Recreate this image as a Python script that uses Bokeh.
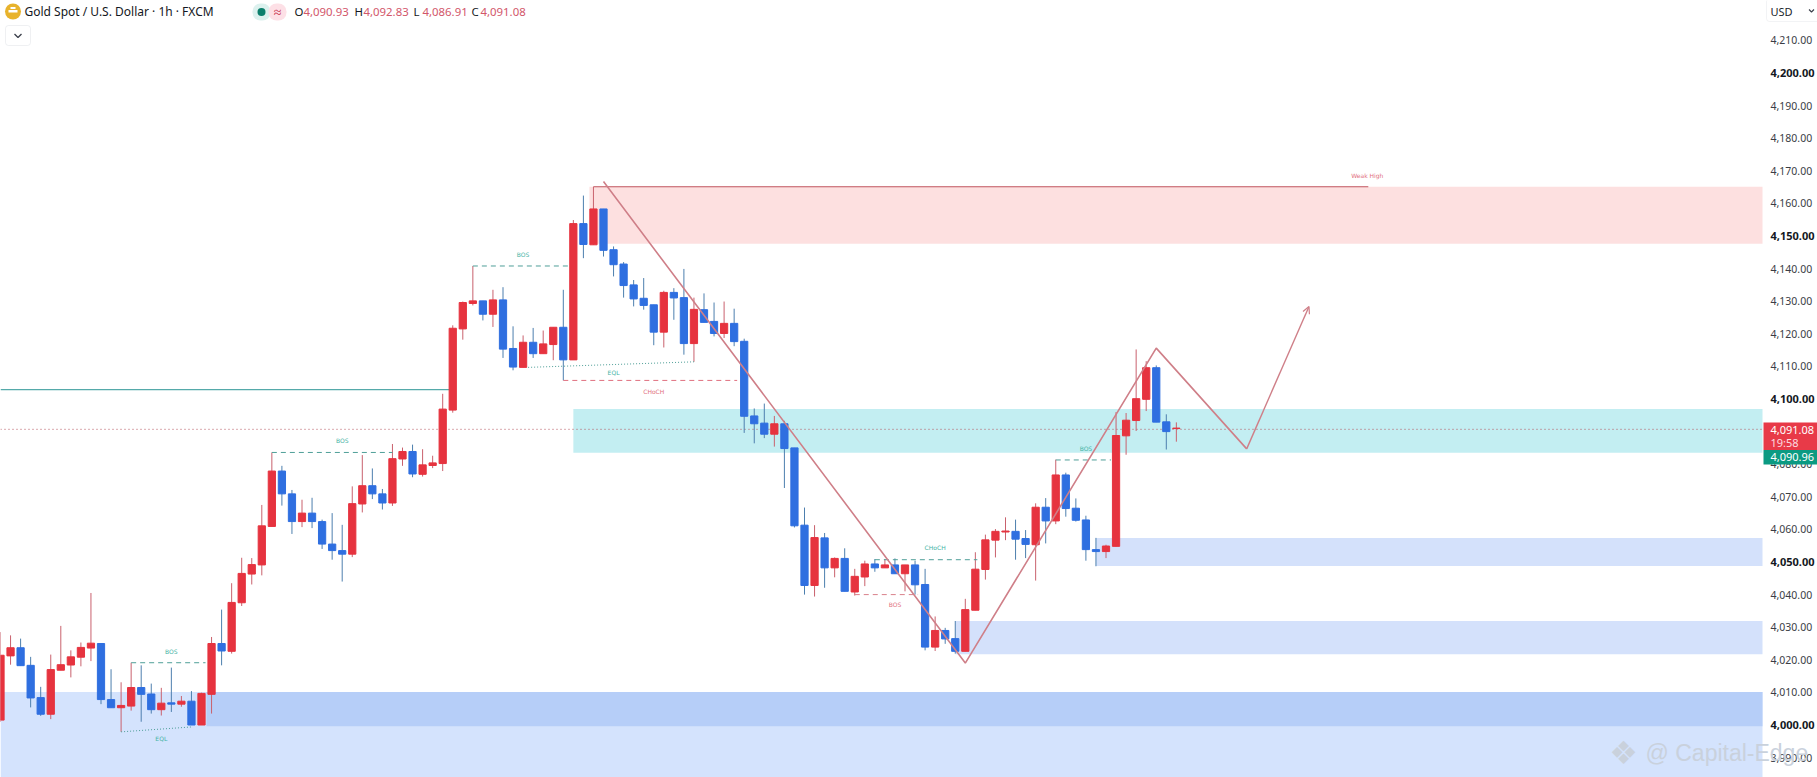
from bokeh.plotting import figure
from bokeh.embed import file_html
from bokeh.resources import INLINE
from bokeh.models import Range1d, FixedTicker, NumeralTickFormatter, Label, BoxAnnotation, Arrow, OpenHead, ColumnDataSource

# ---- data: high, body top, body bottom, low ; colour (r = up, b = down)
highs = [4028.5,4027.5,4026.5,4020.9,4011.7,4021.6,4030.4,4022.9,4025.3,4040.5,4025.0,4017.1,4013.1,4019.1,4018.3,4012.7,4011.4,4017.6,4008.9,4010.4,
         4009.9,4027.0,4035.4,4043.5,4051.3,4051.2,4067.5,4083.6,4079.5,4072.1,4069.1,4069.7,4063.0,4065.0,4061.4,4073.2,4082.8,4078.7,4072.4,4086.2,
         4085.1,4086.0,4084.6,4082.6,4101.6,4122.6,4129.9,4140.8,4130.1,4133.5,4134.3,4122.3,4119.5,4121.8,4121.0,4122.0,4133.5,4154.9,4162.4,4165.1,
         4158.3,4146.8,4142.0,4136.5,4137.1,4128.9,4133.2,4134.0,4139.9,4131.1,4132.4,4129.6,4129.9,4127.7,4118.5,4097.1,4098.6,4094.8,4093.3,4085.0,
         4066.7,4061.3,4058.9,4051.4,4054.2,4047.9,4050.4,4050.9,4050.9,4051.1,4049.1,4050.4,4047.9,4033.3,4029.8,4031.9,4038.7,4053.0,4058.4,4060.1,
         4063.7,4063.0,4059.8,4068.0,4069.6,4081.4,4077.4,4069.5,4064.2,4057.4,4055.3,4096.0,4095.7,4115.2,4111.6,4110.3,4095.3,4092.83]
tops  = [4021.4,4023.7,4023.7,4018.3,4008.4,4017.0,4018.5,4020.9,4023.8,4025.1,4025.0,4007.8,4006.0,4011.5,4011.5,4009.5,4006.7,4006.8,4007.3,4007.3,
         4009.7,4025.0,4025.0,4037.6,4046.5,4049.2,4061.1,4077.9,4077.9,4070.9,4065.0,4065.0,4062.4,4055.5,4053.5,4067.9,4073.4,4073.4,4070.9,4081.7,
         4083.9,4083.9,4079.8,4080.4,4096.9,4121.7,4129.6,4130.1,4130.1,4130.4,4130.4,4115.5,4117.4,4117.4,4116.9,4122.0,4122.0,4153.8,4153.8,4158.3,
         4158.3,4145.8,4141.4,4135.0,4130.9,4128.9,4132.7,4132.7,4131.1,4127.5,4127.4,4123.8,4123.2,4123.2,4117.7,4094.8,4092.6,4092.4,4092.4,4085.0,
         4061.3,4057.5,4057.4,4051.1,4051.1,4045.6,4049.4,4049.4,4049.1,4049.1,4049.1,4049.1,4043.1,4029.0,4029.0,4026.5,4035.4,4047.8,4056.8,4059.4,
         4059.5,4059.4,4057.2,4066.8,4066.8,4076.7,4076.7,4066.5,4062.9,4053.8,4054.9,4088.8,4093.5,4100.1,4109.6,4109.6,4093.0,4091.08]
bots  = [4001.5,4021.2,4018.2,4008.3,4003.3,4003.3,4016.8,4018.4,4020.8,4023.6,4007.8,4005.3,4005.3,4005.8,4009.4,4004.7,4004.7,4006.4,4006.4,4000.0,
         4000.0,4009.4,4022.7,4022.6,4037.5,4046.3,4049.1,4060.9,4070.9,4062.4,4062.4,4062.4,4055.5,4053.5,4052.4,4052.4,4067.8,4070.9,4068.1,4068.1,
         4081.6,4077.0,4076.9,4079.6,4080.2,4096.6,4121.5,4129.3,4126.0,4126.0,4115.3,4109.8,4109.7,4113.9,4113.9,4116.7,4112.0,4112.0,4147.4,4147.3,
         4145.6,4141.2,4134.8,4130.7,4128.7,4120.5,4120.5,4131.0,4117.0,4117.0,4123.5,4120.1,4120.1,4117.6,4094.7,4092.4,4089.2,4089.2,4084.8,4061.1,
         4042.8,4042.8,4048.2,4048.2,4041.0,4040.8,4045.4,4048.2,4048.2,4046.4,4046.4,4043.0,4023.9,4023.9,4026.4,4022.6,4022.6,4035.2,4047.7,4056.7,
         4059.2,4057.0,4055.4,4055.3,4062.6,4062.6,4066.4,4062.8,4053.8,4053.2,4053.2,4054.8,4088.7,4093.4,4099.9,4092.9,4090.0,4090.93]
lows  = [4001.0,4018.5,4018.2,4005.4,4002.8,4001.8,4016.8,4014.6,4018.0,4019.6,4006.4,4005.3,3997.9,4004.4,4001.0,4003.5,4002.9,4004.0,4005.6,4000.0,
         4000.0,4003.5,4018.3,4021.9,4036.5,4043.1,4045.9,4060.9,4067.3,4058.6,4060.7,4060.4,4054.0,4050.7,4044.0,4051.5,4065.2,4069.3,4066.1,4067.2,
         4079.5,4076.0,4076.2,4078.8,4077.9,4095.8,4118.2,4128.7,4124.1,4122.1,4112.6,4108.8,4109.7,4112.6,4113.9,4111.9,4105.7,4112.0,4143.2,4147.3,
         4143.7,4137.6,4131.1,4128.4,4127.4,4116.5,4115.8,4124.3,4113.6,4111.4,4123.5,4119.2,4118.7,4116.2,4089.6,4086.4,4088.0,4085.4,4072.7,4060.6,
         4040.0,4039.4,4042.1,4045.3,4041.0,4039.7,4042.6,4047.0,4048.2,4046.4,4041.0,4040.0,4022.9,4022.7,4024.9,4021.9,4022.6,4035.2,4044.6,4051.4,
         4056.7,4050.7,4051.2,4044.3,4055.7,4061.6,4063.9,4062.4,4050.4,4048.7,4051.2,4054.8,4082.9,4090.2,4096.3,4092.9,4084.5,4086.91]
kinds = "rrbbbrrrrrbbrrbbrbrb" \
        "rrbrrrrrbbrbbbbrrbbr" \
        "rbrrrrrrbrbbrbrrbrbr" \
        "bbbbbbrbbrbbrbbbbrbb" \
        "brbrbrrbrbrbbrbbrrrr" \
        "rbbrbrbbbbrrrrrbbr"
price_ticks = list(range(3990, 4220, 10))
strong_ticks = [4000, 4050, 4100, 4150, 4200]
header_title = "Gold Spot / U.S. Dollar · 1h · FXCM"
ohlc = [("O", "4,090.93"), ("H", "4,092.83"), ("L", "4,086.91"), ("C", "4,091.08")]
last_price_line = 4090.7

RED, BLUE = "#e6333f", "#2f6fe0"
RED_W, BLUE_W = "#c9616d", "#4d7fae"
TEAL, PINK = "#45b3a5", "#e2707e"
TREND = "#cf7f88"

PX, PY = 10.05, 3.26
def X(px): return px / PX
def Y(py): return 4100 - (py - 398.5) / PY

FRAME_R = 1762
p = figure(width=1817, height=777, frame_width=1817, frame_height=777,
           x_range=Range1d(0, X(1817)), y_range=Range1d(Y(777), Y(0)),
           y_axis_location="right", x_axis_location=None,
           toolbar_location=None, output_backend="svg",
           min_border_left=0, min_border_top=0, min_border_bottom=0, min_border_right=0)
p.grid.visible = False
p.outline_line_color = None
p.background_fill_color = "white"
p.border_fill_color = "white"
ax = p.yaxis[0]
ax.fixed_location = X(FRAME_R)
ax.ticker = FixedTicker(ticks=price_ticks)
ax.formatter = NumeralTickFormatter(format="0,0.00")
ax.axis_line_color = None
ax.major_tick_line_color = None
ax.minor_tick_line_color = None
ax.major_tick_out = 0
ax.major_tick_in = 0
ax.major_label_standoff = 8
ax.major_label_text_font = "Noto Sans"
ax.major_label_text_font_size = "10.5px"
ax.major_label_text_color = "#3a3d45"
ax.major_label_overrides = {t: "" for t in strong_ticks}

# ---- zones
END = X(FRAME_R)
LIGHT, DARK = "#d4e3fd", "#b6cef8"
p.quad(left=0, right=END, bottom=Y(777), top=4010.1, color=LIGHT, line_color=None)
p.quad(left=20.5, right=END, bottom=3999.6, top=4010.1, color=DARK, line_color=None)
p.quad(left=58.6, right=END, bottom=4147.6, top=4165.1, color="#fde0e0", line_color=None)
p.quad(left=57, right=END, bottom=4083.5, top=4096.9, color="#c3eef2", line_color=None)
p.quad(left=109, right=END, bottom=4048.8, top=4057.4, color="#d4e1fb", line_color=None)
p.quad(left=95, right=END, bottom=4021.7, top=4031.9, color="#d4e1fb", line_color=None)

# ---- reference lines
p.line([0, END], [last_price_line] * 2, line_color="#b5555f", line_width=1, line_dash="1 3")
p.line([0, 44.8], [4102.9] * 2, line_color="#55aaaa", line_width=1.3)

# ---- candles
idx = list(range(len(highs)))
src = ColumnDataSource(dict(x=idx, h=highs, l=lows, t=tops, b=bots,
                            c=[RED if k == "r" else BLUE for k in kinds],
                            w=[RED_W if k == "r" else BLUE_W for k in kinds]))
p.segment("x", "h", "x", "l", source=src, line_color="w", line_width=1)
p.vbar(x="x", top="t", bottom="b", width=0.72, source=src, fill_color="c", line_color="c", line_width=1)

# ---- structure marks
def seg(x0, x1, y0, y1, c, dash):
    p.line([x0, x1], [y0, y1], line_color=c, line_width=1, line_dash=dash)
def tag(text, x, y, c):
    p.add_layout(Label(x=x, y=y, text=text, text_color=c, text_font="DejaVu Sans", text_font_size="6px",
                       text_align="center", text_baseline="middle"))
DG = "#4f9f98"
seg(13, 20.4, 4019.1, 4019.1, DG, "5 4");  tag("BOS", 17, 4022.4, TEAL)
seg(12, 19, 3997.9, 3999.4, DG, "1 2");    tag("EQL", 16, 3996.0, TEAL)
seg(27, 39, 4083.6, 4083.6, DG, "5 4");    tag("BOS", 34, 4087.2, TEAL)
seg(47, 56.5, 4140.8, 4140.8, DG, "5 4");  tag("BOS", 52, 4144.2, TEAL)
seg(52.5, 69, 4109.7, 4111.4, DG, "1 2");  tag("EQL", 61, 4108.0, TEAL)
seg(56, 73.3, 4105.7, 4105.7, "#e0707f", "5 4"); tag("CHoCH", 65, 4102.4, PINK)
seg(85, 91.3, 4040.0, 4040.0, "#d9808a", "5 4"); tag("BOS", 89, 4037.0, PINK)
seg(87, 97.2, 4050.7, 4050.7, DG, "5 4");  tag("CHoCH", 93, 4054.3, TEAL)
seg(105, 110.5, 4081.3, 4081.3, DG, "5 4"); tag("BOS", 108, 4084.9, TEAL)
p.line([59, 136.1], [4165.1, 4165.1], line_color="#c0555e", line_width=1.2)
tag("Weak High", 136, 4168.5, PINK)

# ---- zig-zag projection
zig_x = [60, 96, 115, 124]
zig_y = [4166.7, 4019.0, 4115.6, 4084.7]
p.line(zig_x, zig_y, line_color=TREND, line_width=1.6)
p.add_layout(Arrow(x_start=124, y_start=4084.7, x_end=130.2, y_end=4128.4,
                   line_color=TREND, line_width=1.4,
                   end=OpenHead(size=7, line_color=TREND, line_width=1.2)))

# ---- header
def text(t, px, py, c, size="13px", font="Noto Sans", align="left", **kw):
    p.add_layout(Label(x=px, y=py, x_units="canvas", y_units="canvas", text=t, text_color=c, text_font=font,
                       text_font_size=size, text_align=align, text_baseline="middle", **kw))
def box(l, r, t, b, fill, **kw):
    p.add_layout(BoxAnnotation(left=l, right=r, top=t, bottom=b, left_units="canvas", right_units="canvas",
                               top_units="canvas", bottom_units="canvas", fill_color=fill, fill_alpha=1, **kw))
p.scatter([X(12.5)], [Y(11)], size=16, fill_color="#e8b32c", line_color=None)
p.quad(left=X(8), right=X(17), bottom=Y(12), top=Y(9.5), color="white", line_color=None)
p.quad(left=X(10), right=X(15), bottom=Y(8.5), top=Y(6.5), color="white", line_color=None)
text(header_title, 24, 11, "#131722", size="12px")
box(252, 270, 3, 20, "#dcf1ee", line_color=None, border_radius=8)
box(268, 286, 3, 20, "#fde0e6", line_color=None, border_radius=8)
p.scatter([X(261)], [Y(11.5)], size=8, fill_color="#0c7f6c", line_color=None, level="overlay")
text("≈", 277, 11, "#c8324e", size="14px", align="center")
for (k, v), cx in zip(ohlc, (294, 354, 413, 471)):
    text(k, cx, 11, "#131722", size="11.4px")
    text(v, cx + 9, 11, "#d2566a", size="11.4px")
box(5, 30, 25, 45, "white", line_color="#c9ccd4", line_width=1, border_radius=3)
p.line([X(14), X(17.5), X(21)], [Y(33.5), Y(37), Y(33.5)], line_color="#3a3f4a", line_width=1.3, level="overlay")

# ---- price axis chrome
for t in strong_ticks:
    p.add_layout(Label(x=X(1770), y=t, text=f"{t:,.2f}", text_color="#131722", text_font="Noto Sans",
                       text_font_size="11px", text_font_style="bold", text_align="left", text_baseline="middle"))
box(1766, 1822, -2, 21, "white", line_color="#d3d6de", line_width=1, border_radius=3)
text("USD", 1770, 10.5, "#20242c", size="11px", align="left")
p.line([X(1808.5), X(1811), X(1813.5)], [Y(9), Y(11.5), Y(9)], line_color="#3a3f4a", line_width=1.1, level="overlay")
box(1763, 1817, 422, 449.5, "#e83a48", line_color=None)
box(1763, 1817, 449.5, 464, "#0b9a82", line_color=None)
text("4,091.08", 1770, 429, "white", size="11px")
text("19:58", 1770, 442, "#fbdde0", size="11px")
text("4,090.96", 1770, 456.5, "white", size="11px")

# ---- watermark
text("❖", 1623, 752, "#c9d1dc", size="32px", font="DejaVu Sans", align="center")
text("@ Capital-Edge", 1645, 752, "#c9d1dc", size="23px", font="Liberation Sans")

open("out.html", "w").write(file_html(p, INLINE))
